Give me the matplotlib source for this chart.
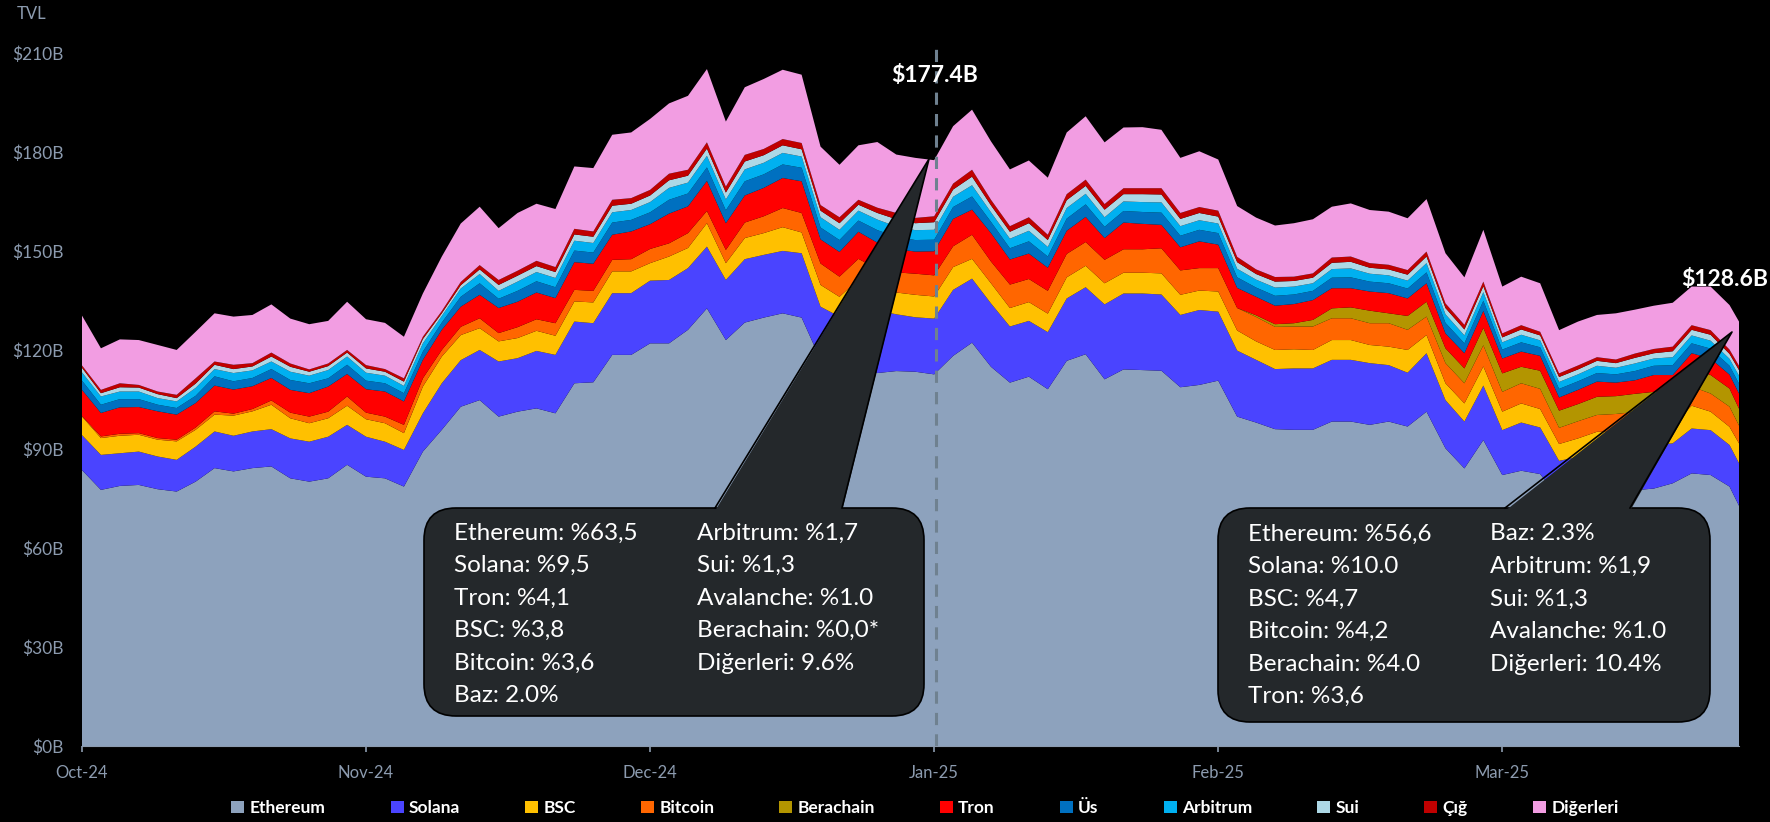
import numpy as np
import matplotlib
matplotlib.use("Agg")
import matplotlib.pyplot as plt
from matplotlib.patches import FancyBboxPatch, Polygon, Patch
from matplotlib.lines import Line2D
from matplotlib.transforms import IdentityTransform

plt.rcParams['font.family'] = ['Lato', 'DejaVu Sans']

W, H = 1770, 822

# one sample every 2 days from Oct-24, last point is the final day
day = list(range(0, 175, 2)) + [175]

ethereum = [83.6, 77.6, 78.8, 79.1, 77.8, 77.1, 80.1, 84.2, 83.2, 84.2,
            84.7, 81.1, 80.1, 81.1, 85.2, 81.6, 81.1, 78.6, 89.2, 95.8,
            102.8, 104.8, 99.8, 101.3, 102.3, 100.8, 109.9, 110.2, 118.5, 118.5,
            122.0, 122.0, 126.1, 132.6, 123.0, 128.3, 129.8, 131.1, 129.8, 117.0,
            113.5, 116.4, 113.0, 113.6, 113.4, 112.6, 118.2, 122.2, 114.9, 110.1,
            111.9, 108.1, 116.7, 118.7, 111.1, 114.1, 113.9, 113.7, 108.7, 109.4,
            110.7, 99.8, 98.0, 96.0, 95.8, 95.8, 98.3, 98.3, 97.3, 98.3,
            96.8, 101.3, 90.2, 84.1, 92.7, 82.1, 83.4, 82.4, 75.0, 75.5,
            76.0, 77.0, 77.5, 78.0, 79.6, 82.6, 82.1, 78.6, 72.8]
solana = [10.6, 10.6, 9.9, 10.1, 9.9, 9.6, 10.6, 11.1, 10.8, 11.1,
          11.3, 12.1, 12.1, 12.6, 12.1, 12.1, 11.1, 11.1, 11.6, 14.1,
          14.1, 15.2, 16.7, 16.2, 17.4, 17.7, 18.7, 17.9, 18.7, 18.7,
          19.0, 19.2, 18.7, 18.7, 18.2, 19.2, 19.0, 18.9, 19.5, 16.1,
          16.6, 19.0, 19.0, 17.2, 16.5, 16.9, 20.0, 19.4, 19.2, 17.0,
          16.9, 17.3, 18.9, 20.3, 22.7, 23.0, 23.2, 23.1, 21.9, 22.7,
          20.9, 20.0, 19.0, 18.2, 18.6, 18.6, 18.7, 18.7, 18.7, 17.1,
          16.3, 17.7, 14.6, 14.2, 16.5, 13.6, 14.6, 14.1, 11.4, 12.1,
          12.7, 12.7, 12.7, 13.2, 12.1, 13.6, 13.6, 12.6, 12.9]
bsc = [5.6, 5.1, 5.3, 5.1, 5.1, 5.6, 5.1, 5.1, 6.1, 6.1,
       7.4, 6.1, 5.6, 5.6, 5.8, 5.3, 5.6, 5.1, 8.1, 8.1,
       7.6, 6.6, 6.1, 6.1, 6.1, 5.8, 6.1, 6.3, 6.6, 6.6,
       5.3, 7.1, 6.1, 7.1, 5.1, 6.4, 6.6, 7.2, 6.3, 6.6,
       6.0, 6.0, 5.5, 6.6, 6.8, 6.7, 6.9, 6.0, 6.1, 5.6,
       5.7, 5.6, 6.4, 6.5, 6.4, 6.3, 6.3, 6.4, 6.1, 5.9,
       6.1, 6.1, 5.6, 5.8, 5.8, 5.6, 6.0, 6.0, 5.5, 5.6,
       6.9, 5.5, 5.1, 5.5, 5.8, 5.6, 5.8, 5.6, 5.1, 5.6,
       6.5, 5.5, 5.5, 5.5, 5.5, 6.9, 5.6, 5.5, 6.0]
bitcoin = [0.2, 0.5, 0.6, 0.5, 0.5, 0.5, 0.7, 1.0, 0.6, 0.7,
           1.3, 1.7, 2.0, 2.0, 2.8, 2.0, 2.0, 2.5, 2.5, 2.0,
           2.5, 3.0, 2.5, 3.3, 3.5, 3.8, 3.5, 3.5, 3.5, 3.7,
           4.3, 4.0, 4.5, 3.7, 4.0, 4.7, 5.1, 5.8, 5.9, 6.5,
           6.1, 6.2, 7.0, 6.1, 6.4, 6.4, 6.3, 7.3, 6.6, 7.1,
           7.0, 6.9, 7.1, 7.2, 7.1, 7.1, 7.1, 7.6, 7.4, 6.8,
           7.1, 6.8, 7.4, 7.0, 6.9, 7.1, 6.6, 6.6, 6.6, 7.1,
           6.1, 5.6, 6.1, 6.1, 6.4, 6.0, 6.1, 6.1, 4.9, 5.2,
           5.1, 5.4, 5.5, 5.6, 5.6, 5.8, 5.5, 6.1, 5.4]
berachain = [0.0] * 62 + [0.5, 0.8, 1.0, 2.0, 3.0, 3.3, 3.8, 3.0, 4.2, 4.5,
                          4.5, 4.5, 5.3, 5.6, 5.0, 5.5, 5.2, 5.2, 5.5, 5.4,
                          5.5, 5.0, 5.0, 5.5, 5.6, 5.5, 5.1]
tron = [7.9, 7.1, 8.0, 7.9, 8.1, 7.6, 7.4, 7.8, 7.3, 6.9,
        6.8, 6.9, 7.1, 7.6, 6.8, 7.1, 7.6, 7.1, 5.6, 6.1,
        6.1, 7.1, 7.6, 7.7, 8.1, 7.6, 8.4, 8.2, 7.6, 8.4,
        7.5, 9.0, 8.1, 9.1, 8.1, 8.2, 8.6, 9.1, 9.6, 7.3,
        7.5, 8.2, 8.0, 7.1, 6.7, 7.3, 8.3, 7.6, 8.6, 7.6,
        7.7, 7.0, 7.0, 7.6, 6.6, 8.1, 7.7, 7.1, 7.0, 8.1,
        7.1, 6.1, 5.6, 5.6, 5.8, 6.0, 6.1, 5.8, 5.8, 6.1,
        5.3, 5.6, 4.5, 4.6, 5.1, 4.5, 4.6, 4.5, 4.0, 4.3,
        4.6, 4.1, 4.1, 5.1, 4.6, 4.6, 5.0, 4.2, 4.6]
base = [2.8, 2.5, 2.5, 2.4, 2.0, 2.0, 2.2, 2.8, 2.5, 2.5,
        2.7, 3.0, 3.0, 2.5, 2.8, 2.6, 2.5, 2.5, 2.5, 2.2,
        3.0, 3.5, 2.8, 3.3, 3.4, 3.3, 3.5, 3.4, 3.7, 3.5,
        3.6, 4.2, 3.9, 4.1, 3.9, 4.3, 4.1, 4.1, 4.1, 3.6,
        3.6, 3.4, 3.8, 3.7, 3.5, 3.5, 3.6, 4.0, 3.4, 3.4,
        3.7, 3.4, 3.7, 3.8, 3.4, 3.5, 3.6, 3.7, 3.5, 3.5,
        3.5, 3.2, 2.8, 3.0, 2.9, 2.8, 3.2, 3.3, 3.0, 3.0,
        3.0, 3.3, 3.2, 3.0, 3.1, 2.7, 2.8, 2.6, 2.6, 2.6,
        2.6, 2.5, 2.8, 2.8, 3.0, 3.0, 3.0, 2.7, 3.0]
arbitrum = [2.5, 2.5, 2.3, 2.3, 2.0, 2.0, 2.4, 2.2, 2.5, 2.3,
            2.3, 2.5, 2.3, 2.5, 2.5, 2.4, 2.3, 2.2, 2.5, 2.0,
            2.5, 2.8, 2.4, 2.8, 2.8, 2.8, 3.0, 2.9, 3.1, 3.0,
            3.1, 3.6, 3.3, 3.5, 3.3, 3.6, 3.5, 3.5, 3.4, 3.1,
            3.1, 3.0, 3.2, 3.1, 3.0, 3.0, 3.1, 3.4, 2.9, 2.9,
            3.2, 2.9, 3.2, 3.2, 2.9, 2.9, 3.0, 3.1, 2.9, 2.9,
            2.9, 2.6, 2.4, 2.5, 2.4, 2.3, 2.6, 2.7, 2.4, 2.4,
            2.4, 2.8, 2.6, 2.4, 2.6, 2.2, 2.3, 2.1, 2.1, 2.1,
            2.2, 2.0, 2.3, 2.2, 2.4, 2.4, 2.4, 2.1, 2.4]
sui = [1.4, 1.0, 1.3, 1.2, 1.2, 1.0, 1.3, 1.3, 1.2, 1.2,
       1.5, 1.5, 1.2, 1.2, 1.2, 1.3, 1.2, 1.3, 1.3, 0.8,
       1.0, 1.4, 1.8, 1.8, 1.8, 1.8, 1.9, 1.9, 2.0, 1.9,
       2.0, 2.3, 2.1, 2.2, 2.1, 2.4, 2.3, 2.3, 2.2, 2.0,
       2.0, 1.8, 2.0, 2.2, 2.1, 2.3, 2.2, 2.6, 2.1, 2.1,
       2.3, 2.1, 2.4, 2.4, 2.3, 2.2, 2.4, 2.4, 2.2, 2.2,
       2.1, 2.0, 1.7, 1.8, 1.7, 1.7, 1.9, 2.0, 1.8, 1.8,
       1.8, 2.0, 1.9, 1.8, 1.8, 1.5, 1.6, 1.5, 1.5, 1.5,
       1.5, 1.4, 1.7, 1.6, 1.8, 1.7, 1.8, 1.5, 1.7]
avalanche = [0.7, 1.0, 1.2, 0.8, 0.8, 1.0, 1.6, 1.0, 1.3, 1.0,
             1.2, 1.0, 0.7, 0.8, 0.8, 1.0, 0.8, 1.0, 0.7, 0.7,
             1.0, 1.3, 1.5, 1.5, 1.6, 1.5, 1.7, 1.6, 1.8, 1.7,
             1.7, 2.0, 1.8, 1.9, 1.8, 2.0, 1.9, 1.9, 1.9, 1.7,
             1.8, 1.5, 1.6, 1.9, 1.6, 1.8, 1.8, 2.1, 1.7, 1.7,
             1.8, 1.6, 1.8, 1.9, 1.7, 1.8, 1.8, 1.9, 1.8, 1.8,
             1.8, 1.6, 1.4, 1.4, 1.3, 1.3, 1.6, 1.6, 1.4, 1.4,
             1.4, 1.5, 1.4, 1.4, 1.4, 1.2, 1.3, 1.1, 1.1, 1.2,
             1.1, 1.1, 1.3, 1.3, 1.4, 1.4, 1.4, 1.3, 1.3]
others = [15.1, 12.6, 13.3, 13.6, 14.1, 13.6, 14.1, 14.6, 14.6, 14.6,
          14.6, 13.6, 13.7, 12.9, 14.6, 13.9, 14.0, 12.6, 13.1, 16.5,
          17.7, 17.7, 15.7, 17.5, 17.3, 17.6, 18.9, 19.2, 19.7, 19.9,
          21.5, 21.3, 22.4, 22.2, 19.7, 20.5, 21.2, 21.0, 20.7, 17.7,
          15.9, 16.5, 19.9, 17.7, 18.2, 17.0, 17.4, 18.2, 17.7, 17.2,
          17.2, 17.3, 18.7, 19.2, 18.7, 18.4, 18.5, 17.7, 16.7, 16.9,
          15.5, 15.4, 15.7, 15.6, 16.2, 16.4, 15.4, 16.1, 16.1, 16.1,
          15.7, 15.9, 15.2, 14.4, 15.7, 14.2, 14.7, 14.7, 13.1, 13.3,
          12.8, 14.0, 13.3, 13.1, 13.3, 11.7, 13.2, 13.5, 13.4]

names = ["Ethereum", "Solana", "BSC", "Bitcoin", "Berachain", "Tron",
         "Üs", "Arbitrum", "Sui", "Çığ", "Diğerleri"]
colors = ["#8DA2BD", "#4A44FF", "#FFC000", "#FF6600", "#B39500", "#FF0000",
          "#0070C0", "#00B0F0", "#ADD8E6", "#C00000", "#F29DE2"]

month_ticks = [0, 30, 60, 90, 120, 150]
month_labels = ["Oct-24", "Nov-24", "Dec-24", "Jan-25", "Feb-25", "Mar-25"]
y_ticks = [0, 30, 60, 90, 120, 150, 180, 210]

left_box = (["Ethereum: %63,5", "Solana: %9,5", "Tron: %4,1", "BSC: %3,8",
             "Bitcoin: %3,6", "Baz: 2.0%"],
            ["Arbitrum: %1,7", "Sui: %1,3", "Avalanche: %1.0",
             "Berachain: %0,0*", "Diğerleri: 9.6%"])
right_box = (["Ethereum: %56,6", "Solana: %10.0", "BSC: %4,7", "Bitcoin: %4,2",
              "Berachain: %4.0", "Tron: %3,6"],
             ["Baz: 2.3%", "Arbitrum: %1,9", "Sui: %1,3", "Avalanche: %1.0",
              "Diğerleri: 10.4%"])

grey = "#8C9BAF"

fig = plt.figure(figsize=(W / 100, H / 100), dpi=100, facecolor="black")
ax = fig.add_axes([82 / W, 76 / H, (1739 - 82) / W, (746 - 43) / H])
ax.set_facecolor("black")

series = [ethereum, solana, bsc, bitcoin, berachain, tron,
          base, arbitrum, sui, avalanche, others]
ax.stackplot(day, *series, colors=colors, linewidth=0)

ax.set_xlim(0, 175)
ax.set_ylim(0, 213)
ax.set_xticks(month_ticks)
ax.set_xticklabels(month_labels)
ax.set_yticks(y_ticks)
ax.set_yticklabels([f"${v}B" for v in y_ticks])
ax.tick_params(axis="x", colors=grey, labelsize=12, length=4, width=1.2, pad=10)
ax.tick_params(axis="y", colors=grey, labelsize=12.5, length=0, pad=13)
for s in ["top", "right", "left"]:
    ax.spines[s].set_visible(False)
ax.spines["bottom"].set_color(grey)

# dashed marker on the first day of January
ax.axvline(90.2, color="#6F8190", linestyle=(0, (4, 3)), linewidth=2.2, zorder=3)

fig.text(17 / W, 1 - 14 / H, "TVL", color=grey, fontsize=12, va="center")
fig.text(935 / W, 1 - 76 / H, "$177.4B", color="white", fontsize=16.5,
         fontweight="bold", ha="center", va="center", zorder=9)
fig.text(1768 / W, 1 - 279 / H, "$128.6B", color="white", fontsize=16.5,
         fontweight="bold", ha="right", va="center", zorder=9)


def callout(x0, y0, x1, y1, bl, br, tip, cols, colx, rowy):
    face = "#24282B"
    box = FancyBboxPatch((x0, H - y1), x1 - x0, y1 - y0,
                         boxstyle="round,pad=0,rounding_size=32",
                         transform=IdentityTransform(), facecolor=face,
                         edgecolor="black", linewidth=1.2, zorder=5)
    fig.add_artist(box)
    tri = Polygon([(bl, H - y0 - 3), (tip[0], H - tip[1]), (br, H - y0 - 3)],
                  closed=True, transform=IdentityTransform(),
                  facecolor=face, edgecolor="none", zorder=6)
    fig.add_artist(tri)
    edge = Line2D([bl, tip[0], br], [H - y0, H - tip[1], H - y0],
                  transform=IdentityTransform(), color="black", linewidth=1.2,
                  zorder=7)
    fig.add_artist(edge)
    for col, cx in zip(cols, colx):
        for i, s in enumerate(col):
            fig.text(cx / W, 1 - (rowy + 32.5 * i) / H, s, color="white",
                     fontsize=17.5, va="center", ha="left", zorder=8)


callout(424, 508, 924, 716, 715, 842, (929, 159), left_box, (454, 697), 533)
callout(1218, 508, 1710, 722, 1505, 1630, (1732, 332), right_box, (1248, 1490), 534)

handles = [Patch(facecolor=c, edgecolor="none") for c in colors]
fig.legend(handles, names, loc="center", bbox_to_anchor=(925 / W, 1 - 808 / H),
           ncol=11, frameon=False, handlelength=0.75, handleheight=0.75,
           handletextpad=0.3, columnspacing=3.75,
           prop={"size": 12.5, "weight": "bold"}, labelcolor="white")

fig.savefig("out.png", dpi=100, facecolor="black")
